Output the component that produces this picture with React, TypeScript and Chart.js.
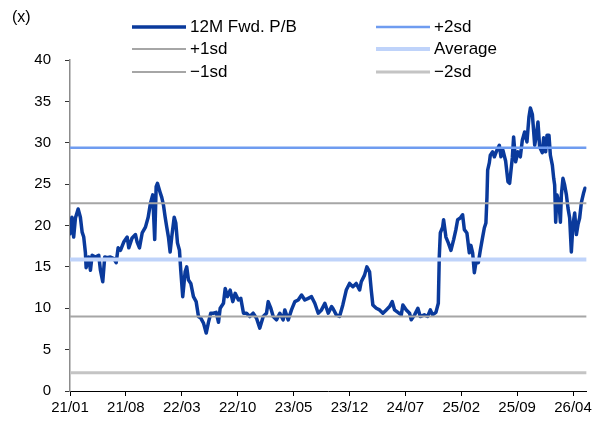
import React, { useEffect, useRef } from "react";
import { Chart, registerables } from "chart.js";

Chart.register(...registerables);

// x position in months since 2021/01
const months = [
  0, 0.24, 0.46, 0.68, 1.02, 1.3, 1.52, 1.72, 1.93, 2.02, 2.34, 2.56, 2.77, 3.18, 3.6, 3.81, 4.1, 4.35, 4.65, 5.06,
  5.48, 5.78, 6.03, 6.32, 6.73, 7.16, 7.36, 7.78, 8.2, 8.41, 8.7, 9.04, 9.45, 9.79, 10.08, 10.36, 10.61, 10.79, 10.95, 11.29,
  11.49, 11.7, 11.92, 12.12, 12.33, 12.54, 12.74, 13.05, 13.25, 13.46, 13.71, 13.87, 14.12, 14.42, 14.62, 14.84, 15.13, 15.46, 15.8, 16.09,
  16.38, 16.72, 17.06, 17.34, 17.63, 17.97, 18.31, 18.6, 18.81, 19.22, 19.44, 19.72, 20.06, 20.39, 20.69, 21.1, 21.39, 21.73, 22.11, 22.52,
  22.94, 23.36, 23.77, 24.2, 24.61, 24.82, 25.15, 25.45, 25.86, 26.28, 26.7, 26.9, 27.33, 27.74, 28.16, 28.58, 29.0, 29.41, 29.84, 30.25,
  30.66, 31.09, 31.5, 31.92, 32.34, 32.76, 32.92, 33.35, 33.76, 34.17, 34.6, 35.01, 35.43, 35.85, 36.27, 36.48, 36.89, 37.18, 37.52, 37.73,
  37.93, 38.36, 38.77, 39.19, 39.61, 40.03, 40.36, 40.65, 41.07, 41.49, 41.69, 42.12, 42.53, 42.74, 43.16, 43.57, 43.87, 44.37, 44.79, 45.13,
  45.41, 45.83, 46.13, 46.25, 46.38, 46.67, 46.79, 47.08, 47.38, 47.71, 48.05, 48.33, 48.55, 48.88, 49.17, 49.39, 49.71, 50.01, 50.21, 50.43,
  50.64, 50.84, 51.14, 51.39, 51.68, 51.89, 52.09, 52.22, 52.31, 52.52, 52.64, 52.93, 53.15, 53.47, 53.77, 53.97, 54.22, 54.56, 54.85, 55.06,
  55.4, 55.56, 55.81, 56.1, 56.4, 56.65, 56.94, 57.23, 57.48, 57.66, 57.91, 58.2, 58.41, 58.61, 58.82, 59.16, 59.32, 59.57, 59.74, 59.99,
  60.16, 60.41, 60.58, 60.7, 60.83, 60.99, 61.24, 61.42, 61.54, 61.74, 61.95, 62.17, 62.37, 62.58, 62.79, 62.99, 63.21, 63.42, 63.62, 63.83,
  64.05, 64.34, 64.5,
];

// 12M Fwd. P/B (x)
const pb = [
  19.0, 21.0, 18.6, 20.9, 22.0, 21.0, 19.2, 18.6, 16.7, 14.9, 16.2, 14.6, 16.4, 16.2, 16.4, 14.6, 13.2, 16.2, 16.1, 16.2,
  16.0, 15.5, 17.3, 17.0, 18.0, 18.6, 17.3, 18.5, 18.9, 18.0, 17.3, 19.1, 19.8, 21.0, 22.7, 23.7, 18.3, 24.7, 25.1, 24.0,
  23.4, 22.5, 21.0, 19.8, 18.6, 16.8, 18.6, 21.0, 20.3, 17.9, 17.0, 14.6, 11.4, 14.4, 15.0, 13.4, 13.0, 11.4, 10.8, 9.0,
  8.8, 8.2, 7.0, 8.3, 9.4, 9.4, 9.5, 8.3, 10.0, 10.6, 12.4, 11.4, 12.2, 10.8, 11.8, 11.0, 11.2, 9.4, 9.4, 9.0,
  9.4, 8.8, 7.6, 9.0, 9.4, 10.8, 10.0, 9.0, 8.6, 9.4, 8.6, 9.8, 8.6, 9.8, 10.8, 11.0, 11.6, 11.0, 11.2, 11.4,
  10.6, 9.4, 9.8, 10.6, 9.4, 10.2, 10.0, 9.2, 9.0, 10.4, 12.2, 13.0, 12.6, 13.0, 12.2, 13.2, 14.0, 15.0, 14.4, 12.2,
  10.4, 10.0, 9.8, 9.4, 9.8, 10.2, 10.8, 9.8, 9.5, 9.2, 10.4, 9.8, 9.4, 8.6, 9.2, 10.0, 9.0, 9.2, 9.0, 9.8,
  9.2, 9.5, 10.6, 16.2, 19.1, 19.8, 20.7, 18.6, 17.9, 17.0, 18.3, 19.5, 20.7, 20.9, 21.3, 19.5, 19.1, 16.7, 17.6, 16.7,
  14.3, 15.5, 15.5, 17.0, 18.6, 19.7, 20.3, 23.4, 26.7, 27.6, 28.5, 28.9, 28.3, 29.1, 29.7, 28.3, 29.1, 27.8, 25.3, 25.1,
  28.2, 30.7, 27.7, 28.9, 28.3, 30.3, 31.3, 30.1, 33.1, 34.2, 33.4, 29.7, 30.9, 32.5, 29.5, 28.8, 30.6, 28.9, 30.9, 30.9,
  28.5, 27.3, 25.7, 24.9, 20.4, 23.7, 22.8, 20.4, 23.7, 25.7, 24.9, 23.7, 22.1, 20.9, 16.8, 20.1, 21.5, 18.9, 20.1, 20.9,
  22.8, 24.0, 24.5,
];

const bandLabels = ["+2sd", "+1sd", "Average", "\u22121sd", "\u22122sd"];
const bandValues = [29.4, 22.7, 15.9, 9.0, 2.2];
const seriesLabel = "12M Fwd. P/B";

const xTickMonths = [0, 7, 14, 21, 28, 35, 42, 49, 56, 63];
const xMin = 0;
const xMax = 64.7;
const yMin = 0;
const yMax = 40;
const yStep = 5;
const unitLabel = "(x)";

const FONT = "'Liberation Sans', Arial, sans-serif";

const seriesStyle = { color: "#0a3a9c", width: 3.5 };
const bandStyles = [
  { color: "#6f9cf0", width: 2.5 },
  { color: "#a6a6a6", width: 2 },
  { color: "#bfd3fa", width: 4 },
  { color: "#a6a6a6", width: 2 },
  { color: "#c4c4c4", width: 3 },
];

const monthLabel = (m: number) => {
  const y = 21 + Math.floor(m / 12);
  const mo = (m % 12) + 1;
  return `${y}/${mo < 10 ? "0" + mo : mo}`;
};

const legendPlugin = {
  id: "customLegend",
  afterDraw(chart: any) {
    const ctx = chart.ctx as CanvasRenderingContext2D;
    ctx.save();
    ctx.font = `16px ${FONT}`;
    ctx.fillStyle = "#000";
    ctx.textBaseline = "middle";
    ctx.textAlign = "left";
    ctx.fillText(unitLabel, 12, 18);

    const items = [
      { label: seriesLabel, style: seriesStyle },
      ...bandLabels.map((l, i) => ({ label: l, style: bandStyles[i] })),
    ];
    const colX = [132, 376];
    const rowY = [27, 49, 72];
    const lineLen = 54;
    items.forEach((it, i) => {
      const col = i % 2;
      const row = Math.floor(i / 2);
      const x = colX[col];
      const y = rowY[row];
      ctx.beginPath();
      ctx.strokeStyle = it.style.color;
      ctx.lineWidth = it.style.width;
      ctx.moveTo(x, y);
      ctx.lineTo(x + lineLen, y);
      ctx.stroke();
      ctx.font = `17px ${FONT}`;
      ctx.fillStyle = "#000";
      ctx.fillText(it.label, x + lineLen + 4, y);
    });
    ctx.restore();
  },
};

export default function App() {
  const ref = useRef<HTMLCanvasElement | null>(null);

  useEffect(() => {
    if (!ref.current) return;
    const seriesData = months.map((m, i) => ({ x: m, y: pb[i] }));
    const datasets: any[] = [
      {
        label: seriesLabel,
        data: seriesData,
        borderColor: seriesStyle.color,
        borderWidth: seriesStyle.width,
        pointRadius: 0,
        tension: 0,
        borderJoinStyle: "round",
        borderCapStyle: "round",
        order: 10,
      },
      ...bandLabels.map((l, i) => ({
        label: l,
        data: [
          { x: xMin, y: bandValues[i] },
          { x: xMax, y: bandValues[i] },
        ],
        borderColor: bandStyles[i].color,
        borderWidth: bandStyles[i].width,
        pointRadius: 0,
        order: 1,
      })),
    ];

    const chart = new Chart(ref.current, {
      type: "line",
      data: { datasets },
      plugins: [legendPlugin],
      options: {
        responsive: false,
        animation: false,
        devicePixelRatio: 1,
        layout: { padding: { top: 60, right: 8, left: 0, bottom: 0 } },
        plugins: { legend: { display: false }, tooltip: { enabled: false } },
        scales: {
          x: {
            type: "linear",
            min: xMin,
            max: xMax,
            afterBuildTicks: (s: any) => {
              s.ticks = xTickMonths.map((v) => ({ value: v }));
            },
            afterFit: (s: any) => {
              s.height = 30;
            },
            ticks: {
              autoSkip: false,
              maxRotation: 0,
              color: "#000",
              padding: 3,
              font: { family: FONT, size: 15 },
              callback: (v: any) => monthLabel(Number(v)),
            },
            grid: { drawOnChartArea: false, drawTicks: true, tickLength: 5, tickColor: "#000" },
            border: { color: "#000", width: 1 },
          },
          y: {
            min: yMin,
            max: yMax,
            afterFit: (s: any) => {
              s.width = 70;
            },
            ticks: {
              stepSize: yStep,
              color: "#000",
              padding: 14,
              font: { family: FONT, size: 15 },
            },
            grid: { drawOnChartArea: false, drawTicks: true, tickLength: 5, tickColor: "#333" },
            border: { color: "#8c8c8c", width: 1.5 },
          },
        },
      },
    } as any);
    return () => chart.destroy();
  }, []);

  return (
    <div style={{ position: "fixed", left: 0, top: 0, width: 595, height: 421, background: "#fff" }}>
      <canvas ref={ref} width={595} height={421} style={{ width: 595, height: 421, display: "block" }} />
    </div>
  );
}
